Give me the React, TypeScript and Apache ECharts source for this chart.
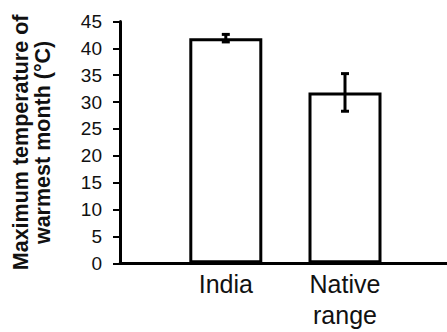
import React, { useEffect, useRef } from "react";
import * as echarts from "echarts";

const categories = ["India", "Native\nrange"];
const values = [41.9, 31.8];
const errors = [0.7, 3.5];
const yTicks = { min: 0, max: 45, interval: 5 };
const yName = "Maximum temperature of\nwarmest month (°C)";

const FONT = "'Liberation Sans', Arial, sans-serif";

export default function App() {
  const ref = useRef<HTMLDivElement>(null);
  useEffect(() => {
    if (!ref.current) return;
    const chart = echarts.init(ref.current, undefined, { renderer: "svg" });
    const errData = values.map((v, i) => [i, v, errors[i]]);
    chart.setOption({
      animation: false,
      backgroundColor: "#fff",
      grid: [
        { left: 166.2, right: 42.4, top: 21.5, bottom: 68.7, outerBoundsMode: "none", containLabel: false },
        { left: 120, right: 0, top: 21.5, bottom: 68.7, outerBoundsMode: "none", containLabel: false },
      ],
      xAxis: [
        {
          gridIndex: 0,
          type: "category",
          data: categories,
          axisLine: { show: false },
          axisTick: { show: false },
          axisLabel: {
            color: "#111",
            fontFamily: FONT,
            fontSize: 25,
            lineHeight: 31,
            margin: 5,
            interval: 0,
          },
        },
        {
          gridIndex: 1,
          type: "category",
          data: [""],
          axisLine: { show: true, lineStyle: { color: "#000", width: 3 } },
          axisTick: { show: false },
          axisLabel: { show: false },
        },
      ],
      yAxis: [
        {
          gridIndex: 0,
          type: "value",
          min: yTicks.min,
          max: yTicks.max,
          interval: yTicks.interval,
          show: false,
        },
        {
          gridIndex: 1,
          type: "value",
          min: yTicks.min,
          max: yTicks.max,
          interval: yTicks.interval,
          splitLine: { show: false },
          axisLine: { show: true, lineStyle: { color: "#000", width: 3 } },
          axisTick: { show: true, length: 7, lineStyle: { color: "#000", width: 2 } },
          axisLabel: {
            color: "#111",
            fontFamily: FONT,
            fontSize: 19,
            margin: 18,
          },
          name: yName,
          nameLocation: "middle",
          nameRotate: 90,
          nameGap: 66,
          nameTextStyle: {
            color: "#111",
            fontFamily: FONT,
            fontSize: 21.5,
            fontWeight: "bold",
            lineHeight: 22,
            align: "center",
          },
        },
      ],
      series: [
        {
          type: "bar",
          xAxisIndex: 0,
          yAxisIndex: 0,
          data: values,
          barWidth: 73,
          itemStyle: { color: "#fff", borderColor: "#000", borderWidth: 3 },
          silent: true,
        },
        {
          type: "custom",
          xAxisIndex: 0,
          yAxisIndex: 0,
          data: errData,
          encode: { x: 0, y: 1 },
          renderItem: (params: any, api: any) => {
            const x = api.value(0);
            const v = api.value(1);
            const e = api.value(2);
            const top = api.coord([x, v + e]);
            const bot = api.coord([x, v - e]);
            const hw = 4;
            const style = { stroke: "#000", lineWidth: 3 };
            return {
              type: "group",
              children: [
                { type: "line", shape: { x1: top[0], y1: top[1], x2: bot[0], y2: bot[1] }, style },
                { type: "line", shape: { x1: top[0] - hw, y1: top[1], x2: top[0] + hw, y2: top[1] }, style },
                { type: "line", shape: { x1: bot[0] - hw, y1: bot[1], x2: bot[0] + hw, y2: bot[1] }, style },
              ],
            };
          },
          z: 5,
          silent: true,
        },
      ],
    });
    return () => chart.dispose();
  }, []);
  return (
    <div
      ref={ref}
      style={{ position: "fixed", left: 0, top: 0, width: 447, height: 332 }}
    />
  );
}
